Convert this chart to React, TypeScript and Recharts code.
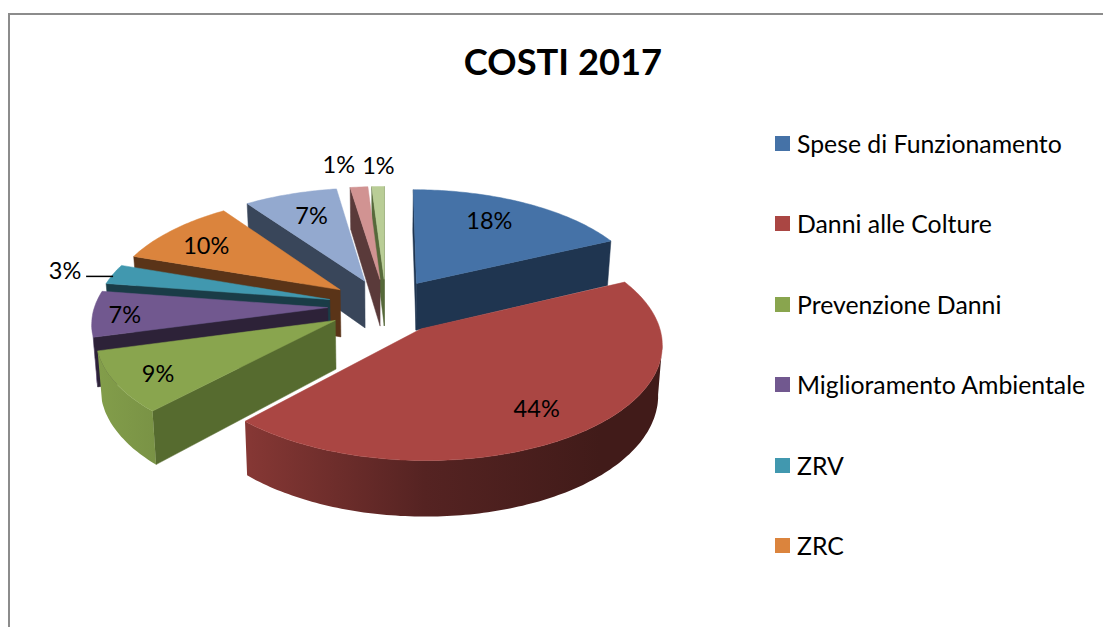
import { PieChart, Pie, Legend } from "recharts";

const categories = [
  "Spese di Funzionamento",
  "Danni alle Colture",
  "Prevenzione Danni",
  "Miglioramento Ambientale",
  "ZRV",
  "ZRC",
  "Altri Costi",
  "Varie",
  "Residui",
];
const values = [18, 44, 8.8, 6.6, 2.9, 9.9, 7.4, 1.4, 1];
const colors = ["#4572A7", "#AA4643", "#89A54E", "#71588F", "#4198AF", "#DB843D", "#93A9CF", "#D19392", "#B9CD96"];
const cutColors = ["#1F3550", "#4A1E1C", "#566B2F", "#2D2238", "#1A3C47", "#5A3418", "#39465A", "#5A3A3A", "#56693A"];
const legendCount = 6; // the last three entries fall off the bottom in the original

// slices are painted back to front, going counter clockwise from the blue one
const paintOrder = [0, 8, 7, 6, 5, 4, 3, 2, 1];
const total = values.reduce((a, b) => a + b, 0);
const pieData = paintOrder.map((i) => ({
  name: categories[i],
  value: values[i],
  fill: colors[i],
  cut: cutColors[i],
}));

// fake 3D: tilted plane + a bit of perspective
const CX = 386;
const CY = 306;
const RADIUS = 233;
const TILT = 0.472;
const PERSPECTIVE = 0.12;
const EXPLODE = 0.25;
const DEPTH = 48;

const project = (x: number, y: number) => {
  const s = 1 / (1 - PERSPECTIVE * y);
  return { x: CX + RADIUS * x * s, y: CY + RADIUS * TILT * y * s, s };
};
const extrude = (p: { x: number; y: number; s: number }) => ({
  x: CX + (p.x - CX) * 0.985,
  y: p.y + DEPTH * p.s,
  s: p.s,
});
const toPath = (pts: { x: number; y: number }[]) =>
  "M" + pts.map((p) => `${p.x.toFixed(1)},${p.y.toFixed(1)}`).join("L") + "Z";

const shade = (hex: string, k: number) => {
  const n = parseInt(hex.slice(1), 16);
  const c = (v: number) => Math.round(v * k);
  return `rgb(${c(n >> 16)},${c((n >> 8) & 255)},${c(n & 255)})`;
};

const Slice3D = (props: any) => {
  const { startAngle, endAngle, midAngle, fill, cut } = props;
  const rad = Math.PI / 180;
  const mid = (90 - midAngle) * rad;
  const ox = Math.sin(mid) * EXPLODE;
  const oy = -Math.cos(mid) * EXPLODE;
  const th0 = 90 - endAngle;
  const th1 = 90 - startAngle;
  const arc = [];
  const steps = Math.max(2, Math.ceil(th1 - th0));
  for (let i = 0; i <= steps; i++) {
    const t = (th0 + ((th1 - th0) * i) / steps) * rad;
    arc.push(project(ox + Math.sin(t), oy - Math.cos(t)));
  }
  const apex = project(ox, oy);
  const first = arc[0];
  const last = arc[arc.length - 1];
  const gid = "wall" + fill.slice(1);
  const quad = (a: any, b: any) => toPath([a, b, extrude(b), extrude(a)]);

  // outer wall: only the stretch of the rim that faces the viewer
  const wall: any[] = [];
  for (let i = 0; i < arc.length - 1; i++) {
    if (arc[i].x > arc[i + 1].x) {
      wall.push(arc[i], arc[i + 1]);
    }
  }
  const wallPath =
    wall.length > 0 ? toPath([...wall, ...wall.slice().reverse().map(extrude)]) : null;

  return (
    <g>
      <defs>
        <linearGradient id={gid} gradientUnits="userSpaceOnUse" x1={100} y1={0} x2={600} y2={0}>
          <stop offset="0%" stopColor={shade(fill, 0.95)} />
          <stop offset="30%" stopColor={shade(fill, 0.78)} />
          <stop offset="65%" stopColor={shade(fill, 0.5)} />
          <stop offset="100%" stopColor={shade(fill, 0.38)} />
        </linearGradient>
      </defs>
      {apex.x > first.x && <path d={quad(apex, first)} fill={cut} stroke={cut} strokeWidth={0.5} />}
      {last.x > apex.x && <path d={quad(last, apex)} fill={cut} stroke={cut} strokeWidth={0.5} />}
      {wallPath && <path d={wallPath} fill={`url(#${gid})`} />}
      <path d={toPath([apex, ...arc])} fill={fill} stroke={fill} strokeWidth={0.5} />
    </g>
  );
};

// nudges from the rim point of each slice to where the label sits
const labelNudges = [
  [-10, -2],
  [-1, 3],
  [-15, 7],
  [-27, 2],
  [-101, -10],
  [-6, 1],
  [4, 1],
  [-25, -44],
  [-1, -43],
];

const SliceLabel = (props: any) => {
  const { midAngle, percent, index } = props;
  const mid = ((90 - midAngle) * Math.PI) / 180;
  const p = project(Math.sin(mid), -Math.cos(mid));
  const cat = paintOrder[index];
  const [dx, dy] = labelNudges[cat];
  const x = p.x + dx;
  const y = p.y + dy;
  return (
    <g>
      {categories[cat] === "ZRV" && (
        <line x1={x + 21} y1={y + 6} x2={x + 48} y2={y + 6} stroke="#000" strokeWidth={1.5} />
      )}
      <text x={x} y={y} textAnchor="middle" dominantBaseline="central" fontFamily="Lato" fontSize={23.5} fill="#000">
        {Math.round(percent * 100)}%
      </text>
    </g>
  );
};

const LegendBox = () => (
  <div style={{ position: "relative", width: 320, height: 440, fontFamily: "Lato", fontSize: 24.8, color: "#000" }}>
    {categories.slice(0, legendCount).map((name, i) => (
      <div
        key={name}
        style={{ position: "absolute", left: 0, top: i * 80.5, height: 30, display: "flex", alignItems: "center", whiteSpace: "nowrap" }}
      >
        <span style={{ width: 15, height: 15, background: colors[i], marginRight: 7, display: "inline-block" }} />
        {name}
      </div>
    ))}
  </div>
);

export default function App() {
  const start = 90 - (360 * values[0]) / total;
  return (
    <div style={{ position: "absolute", left: 0, top: 0, width: 1103, height: 627, overflow: "hidden", background: "#fff" }}>
      <div
        style={{
          position: "absolute",
          left: 8,
          top: 13,
          width: 1200,
          height: 700,
          borderTop: "2px solid #8c8c8c",
          borderLeft: "2px solid #8c8c8c",
        }}
      />
      <div
        style={{
          position: "absolute",
          left: 363,
          top: 38,
          width: 400,
          textAlign: "center",
          fontFamily: "Lato",
          fontWeight: 700,
          fontSize: 36.3,
          lineHeight: "46px",
        }}
      >
        COSTI 2017
      </div>
      <div style={{ position: "absolute", left: 0, top: 0 }}>
        <PieChart width={1103} height={627}>
          <Pie
            data={pieData}
            dataKey="value"
            nameKey="name"
            cx={CX}
            cy={CY}
            outerRadius={RADIUS}
            startAngle={start}
            endAngle={start + 360}
            shape={Slice3D}
            label={SliceLabel}
            labelLine={false}
            rootTabIndex={-1}
            isAnimationActive={false}
          />
          <Legend
            layout="vertical"
            content={LegendBox}
            wrapperStyle={{ left: 775, top: 128, width: 320, bottom: "auto" }}
          />
        </PieChart>
      </div>
    </div>
  );
}
